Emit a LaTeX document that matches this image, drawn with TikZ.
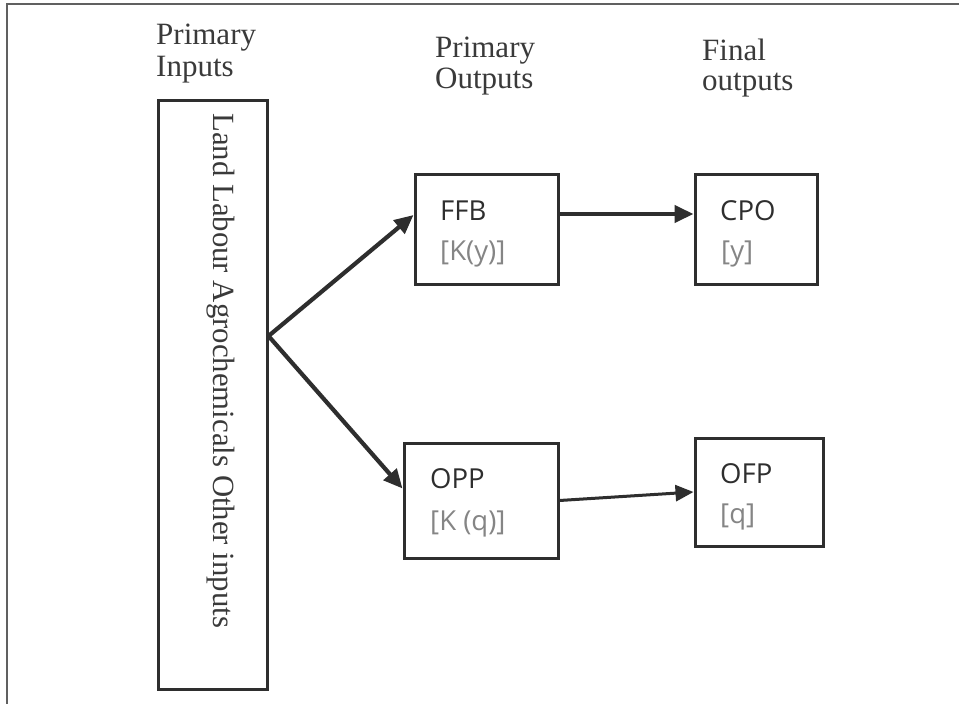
\documentclass[tikz,border=0pt]{standalone}
\usepackage{fontspec}
\setmainfont{Liberation Serif}
\newfontfamily\boxfont{Open Sans}
\usetikzlibrary{arrows.meta}
\definecolor{linec}{HTML}{2E2E2E}
\definecolor{framec}{HTML}{606060}
\definecolor{headc}{HTML}{3A3A3A}
\definecolor{grayc}{HTML}{858585}
\tikzset{
  boxnode/.style={draw=linec, line width=3pt, inner sep=0pt, fill=white},
  head/.style={anchor=base west, inner sep=0pt, font=\fontsize{31}{31}\selectfont, text=headc},
  boxtxt/.style={anchor=base west, inner sep=0pt, font=\boxfont\fontsize{27.5}{28}\selectfont, text=black!82},
  boxsub/.style={anchor=base west, inner sep=0pt, font=\boxfont\fontsize{27.5}{28}\selectfont, text=grayc},
  flow/.style={draw=linec, line width=4.2pt, -{Triangle[length=19pt,width=17pt]}},
  flowthin/.style={draw=linec, line width=3pt, -{Triangle[length=18pt,width=16pt]}}
}
\begin{document}
\begin{tikzpicture}[x=1pt,y=-1pt]
\useasboundingbox (0,0) rectangle (959,704);
\fill[white] (0,0) rectangle (959,704);
% outer frame (cut off at right and bottom)
\draw[framec, line width=2.2pt] (7,704) -- (7,4) -- (959,4);

% headings
\node[head] (h1a) at (156,45) {Primary};
\node[head] (h1b) at (156,76) {Inputs};
\node[head] (h2a) at (435,57) {Primary};
\node[head] (h2b) at (435,88) {Outputs};
\node[head] (h3a) at (702,60) {Final};
\node[head] (h3b) at (702,90) {outputs};

% input box
\node[boxnode, minimum width=109pt, minimum height=589pt] (inp) at (212.5,394.5) {};
\node[anchor=base west, inner sep=0pt, rotate=-90, font=\fontsize{30.8}{31}\selectfont, text=headc] (inptxt) at (213,113) {Land Labour Agrochemicals Other inputs};

% output boxes
\node[boxnode, minimum width=143pt, minimum height=110pt] (ffb) at (486.5,229) {};
\node[boxnode, minimum width=122pt, minimum height=110pt] (cpo) at (756,229) {};
\node[boxnode, minimum width=154pt, minimum height=115pt] (opp) at (481,500.5) {};
\node[boxnode, minimum width=128pt, minimum height=108pt] (ofp) at (759,492) {};

\node[boxtxt] (ffbt) at (440,220) {FFB};
\node[boxsub] (ffbs) at (440,260) {[K(y)]};
\node[boxtxt] (cpot) at (720,220) {CPO};
\node[boxsub] (cpos) at (721,260) {[y]};
\node[boxtxt] (oppt) at (430,488) {OPP};
\node[boxsub] (opps) at (430,530) {[K (q)]};
\node[boxtxt] (ofpt) at (720,483) {OFP};
\node[boxsub] (ofps) at (720,523) {[q]};

% connectors
\coordinate (j) at (inp.east |- 0,336);
\draw[flow] (j) -- ([yshift=14pt]ffb.west);
\draw[flow] (j) -- ([yshift=12pt]opp.west);
\draw[flow] ([yshift=15pt]ffb.east) -- ([yshift=15pt]cpo.west);
\draw[flowthin] (opp.east) -- (ofp.west);
\end{tikzpicture}
\end{document}
